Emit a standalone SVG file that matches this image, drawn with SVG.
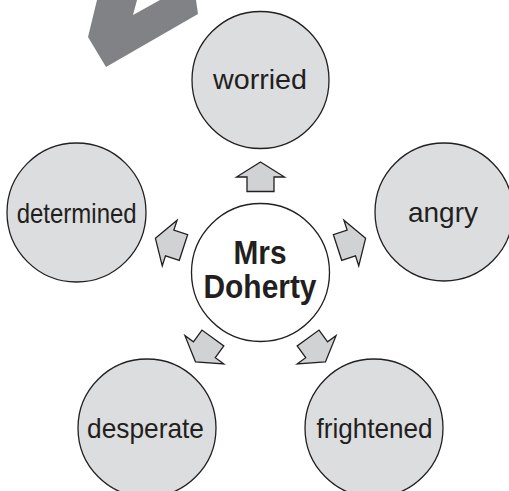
<svg xmlns="http://www.w3.org/2000/svg" width="509" height="491" viewBox="0 0 509 491">
<style>
.bub{fill:#dcdddf;stroke:#231f20;stroke-width:1.3}
.hub{fill:#ffffff;stroke:#231f20;stroke-width:1.3}
.arr{fill:#d1d2d4;stroke:#231f20;stroke-width:1.3;stroke-linejoin:miter}
.lbl{font-family:"Liberation Sans",Arial,sans-serif;font-size:28px;fill:#231f20;text-anchor:middle}
.hubt{font-family:"Liberation Sans",Arial,sans-serif;font-size:33px;font-weight:bold;fill:#231f20;text-anchor:middle}
</style>
<defs>
<path id="blk" d="M0,-110.5 L24,-95.5 L13.5,-95.5 L13.5,-81 L-13.5,-81 L-13.5,-95.5 L-24,-95.5 Z"/>
</defs>
<polygon points="97,0 88,37 106,67 198,14 196,0 160,0 133,15 137,0" fill="#808285"/>
<g id="connectors">
<use href="#blk" class="arr" transform="translate(260.5,272.5) rotate(0)"/>
<use href="#blk" class="arr" transform="translate(260.5,272.5) rotate(72)"/>
<use href="#blk" class="arr" transform="translate(260.5,272.5) rotate(144)"/>
<use href="#blk" class="arr" transform="translate(260.5,272.5) rotate(216)"/>
<use href="#blk" class="arr" transform="translate(260.5,272.5) rotate(288)"/>
</g>
<g id="hub">
<circle class="hub" cx="260.5" cy="272.5" r="69"/>
<text class="hubt" x="260" y="264" textLength="53" lengthAdjust="spacingAndGlyphs">Mrs</text>
<text class="hubt" x="260" y="298" textLength="113" lengthAdjust="spacingAndGlyphs">Doherty</text>
</g>
<g id="worried">
<circle class="bub" cx="260.5" cy="80" r="68.5"/>
<text class="lbl" x="260" y="89" textLength="94" lengthAdjust="spacingAndGlyphs">worried</text>
</g>
<g id="angry">
<circle class="bub" cx="444" cy="212" r="69"/>
<text class="lbl" x="443" y="221.5" textLength="70" lengthAdjust="spacingAndGlyphs">angry</text>
</g>
<g id="frightened">
<circle class="bub" cx="374" cy="428" r="69"/>
<text class="lbl" x="374.5" y="438" textLength="116" lengthAdjust="spacingAndGlyphs">frightened</text>
</g>
<g id="desperate">
<circle class="bub" cx="147" cy="428" r="69"/>
<text class="lbl" x="145.5" y="438" textLength="117" lengthAdjust="spacingAndGlyphs">desperate</text>
</g>
<g id="determined">
<circle class="bub" cx="76.5" cy="212.5" r="69.5"/>
<text class="lbl" x="76.7" y="223" textLength="120" lengthAdjust="spacingAndGlyphs">determined</text>
</g>
</svg>
